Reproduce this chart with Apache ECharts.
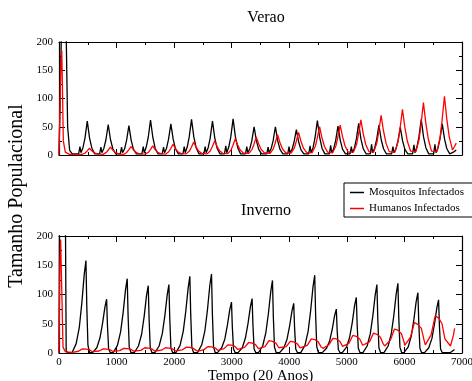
<!DOCTYPE html>
<html>
<head>
<meta charset="utf-8">
<script src="https://cdn.jsdelivr.net/npm/echarts@6/dist/echarts.min.js"></script>
<style>
  html, body { margin: 0; padding: 0; background: #fff; }
  #chart { width: 472px; height: 381px; }
</style>
</head>
<body>
<div id="chart"></div>
<script>
// Verao / Inverno - mosquitos e humanos infectados ao longo do tempo
var serifFont = '"Liberation Serif", "DejaVu Serif", serif';

var seriesNames = ['Mosquitos Infectados', 'Humanos Infectados'];
var panelTitles = ['Verao', 'Inverno'];
var xMax = 7000, xStep = 1000;
var yMax = 200, yStep = 50;

// [tempo, tamanho]
var veraoMosq = [
  [0,0],[50,260],[118,260],[150,50],[185,8],[230,2],
  [341,2],[364,15],[381,4],[416,13],[451,30],[491,60],[531,30],[571,12],[621,2],
  [705,2],[728,14],[745,4],[780,12],[815,27],[855,54],[895,27],[935,11],[985,2],
  [1064,2],[1087,14],[1104,4],[1139,11],[1174,26],[1214,52],[1254,26],[1294,10],[1344,2],
  [1440,2],[1463,15],[1480,4],[1515,14],[1550,31],[1590,62],[1630,31],[1670,12],[1720,2],
  [1793,2],[1816,14],[1833,4],[1868,12],[1903,28],[1943,55],[1983,28],[2023,11],[2073,2],
  [2152,2],[2175,15],[2192,4],[2227,14],[2262,32],[2302,63],[2342,32],[2382,13],[2432,2],
  [2516,2],[2539,15],[2556,4],[2591,13],[2626,30],[2666,60],[2706,30],[2746,12],[2796,2],
  [2874,2],[2897,16],[2914,4],[2949,14],[2984,32],[3024,64],[3064,32],[3104,13],[3154,2],
  [3239,2],[3262,15],[3279,4],[3314,11],[3349,25],[3389,50],[3429,25],[3469,10],[3519,2],
  [3609,2],[3632,14],[3649,4],[3684,11],[3719,25],[3759,50],[3799,25],[3839,10],[3889,2],
  [3973,2],[3996,15],[4013,4],[4048,10],[4083,23],[4123,45],[4163,23],[4203,9],[4253,2],
  [4338,2],[4361,16],[4378,4],[4413,13],[4448,31],[4488,61],[4528,31],[4568,12],[4618,2],
  [4696,2],[4719,17],[4736,4],[4771,11],[4806,26],[4846,51],[4886,26],[4926,10],[4976,2],
  [5055,2],[5078,15],[5095,4],[5130,12],[5165,28],[5205,56],[5245,28],[5285,11],[5335,2],
  [5407,2],[5430,19],[5447,4],[5482,12],[5517,27],[5557,53],[5597,27],[5637,11],[5687,2],
  [5778,2],[5801,15],[5818,4],[5853,11],[5888,25],[5928,49],[5968,25],[6008,10],[6058,2],
  [6142,2],[6165,18],[6182,4],[6217,14],[6252,32],[6292,63],[6332,32],[6372,13],[6422,2],
  [6507,2],[6530,19],[6547,4],[6582,12],[6617,28],[6657,55],[6697,28],[6737,11],[6787,2],
  [6850,5],[6900,9]
];

var veraoHum = [
  [0,0],[30,150],[48,185],[60,120],[75,25],[110,5],[180,1],
  [399,1],[454,3.6],[489,7.2],[529,12],[569,7.4],[614,3.6],[669,2],
  [763,1],[818,4.2],[853,8.4],[893,14],[933,8.7],[978,4.2],[1033,2],
  [1122,1],[1177,4.5],[1212,9],[1252,15],[1292,9.3],[1337,4.5],[1392,2],
  [1498,1.5],[1553,4.8],[1588,9.6],[1628,16],[1668,9.9],[1713,4.8],[1768,2.5],
  [1851,1.5],[1906,5.7],[1941,11.4],[1981,19],[2021,11.8],[2066,5.7],[2121,2.5],
  [2210,2],[2265,6.9],[2300,13.8],[2340,23],[2380,14.3],[2425,6.9],[2480,3],
  [2574,2],[2629,7.5],[2664,15],[2704,25],[2744,15.5],[2789,7.5],[2844,3],
  [2932,2.5],[2987,8.7],[3022,17.4],[3062,29],[3102,18],[3147,8.7],[3202,3.5],
  [3297,3],[3352,9.6],[3387,19.2],[3427,32],[3467,19.8],[3512,9.6],[3567,4],
  [3667,3],[3722,10.8],[3757,21.6],[3797,36],[3837,22.3],[3882,10.8],[3937,4],
  [4031,3.5],[4086,12],[4121,24],[4161,40],[4201,24.8],[4246,12],[4301,4.5],
  [4396,4],[4451,15],[4486,30],[4526,50],[4566,31],[4611,15],[4666,5],
  [4754,4],[4809,15.9],[4844,31.8],[4884,53],[4924,32.9],[4969,15.9],[5024,5],
  [5113,5],[5168,18.6],[5203,37.2],[5243,62],[5283,38.4],[5328,18.6],[5383,6],
  [5465,5],[5520,21],[5555,42],[5595,70],[5635,43.4],[5680,21],[5735,6],
  [5836,5],[5891,24.3],[5926,48.6],[5966,81],[6006,50.2],[6051,24.3],[6106,7],
  [6200,6],[6255,27.9],[6290,55.8],[6330,93],[6370,57.7],[6415,27.9],[6470,7],
  [6565,6],[6620,31.2],[6655,62.4],[6695,104],[6735,64.5],[6780,31.2],[6835,9],
  [6870,15],[6900,21]
];

var invernoMosq = [
  [0,0],[10,260],[110,260],[125,3],[160,0.5],
  [228,1],[298,16],[353,44],[398,87],[438,134],[468,158],[483,79],[503,13],[533,0.5],
  [587,1],[657,9],[712,26],[757,51],[797,78],[827,92],[842,46],[862,7],[892,0.5],
  [945,1],[1015,13],[1070,36],[1115,70],[1155,108],[1185,127],[1200,64],[1220,10],[1250,0.5],
  [1310,1],[1380,12],[1435,32],[1480,63],[1520,98],[1550,115],[1565,58],[1585,9],[1615,0.5],
  [1669,1],[1739,12],[1794,33],[1839,64],[1879,99],[1909,117],[1924,59],[1944,9],[1974,0.5],
  [2033,1],[2103,13],[2158,37],[2203,72],[2243,111],[2273,131],[2288,66],[2308,10],[2338,0.5],
  [2409,1],[2479,14],[2534,38],[2579,74],[2619,115],[2649,135],[2664,68],[2684,11],[2714,0.5],
  [2756,1],[2826,9],[2881,24],[2926,48],[2966,74],[2996,87],[3011,44],[3031,7],[3061,0.5],
  [3114,1],[3184,9],[3239,26],[3284,51],[3324,79],[3354,93],[3369,47],[3389,7],[3419,0.5],
  [3468,1],[3538,12],[3593,35],[3638,68],[3678,105],[3708,124],[3723,62],[3743,10],[3773,0.5],
  [3837,1],[3907,9],[3962,24],[4007,47],[4047,72],[4077,85],[4092,43],[4112,7],[4142,0.5],
  [4202,1],[4272,13],[4327,37],[4372,73],[4412,113],[4442,133],[4457,67],[4477,11],[4507,0.5],
  [4577,1],[4647,8],[4702,21],[4747,41],[4787,64],[4817,75],[4832,38],[4852,6],[4882,0.5],
  [4924,1],[4994,10],[5049,27],[5094,52],[5134,81],[5164,95],[5179,48],[5199,8],[5229,0.5],
  [5282,1],[5352,12],[5407,33],[5452,64],[5492,99],[5522,117],[5537,59],[5557,9],[5587,0.5],
  [5647,1],[5717,12],[5772,33],[5817,65],[5857,101],[5887,119],[5902,60],[5922,10],[5952,0.5],
  [5994,1],[6064,10],[6119,29],[6164,57],[6204,88],[6234,103],[6249,52],[6269,8],[6299,0.5],
  [6353,1],[6423,9],[6478,25],[6523,50],[6563,77],[6593,91],[6608,46],[6628,7],[6658,0.5],
  [6800,1],[6870,6]
];

var invernoHum = [
  [0,0],[15,150],[28,194],[45,120],[70,10],[110,2],
  [238,1],[338,3],[408,7],[468,6.6],[528,5.6],[578,2.2],
  [597,1.5],[697,3.4],[767,7],[827,6.6],[887,5.6],[937,2.6],
  [955,2],[1055,4.1],[1125,8],[1185,7.6],[1245,6.4],[1295,3.2],
  [1320,2],[1420,4.5],[1490,9],[1550,8.5],[1610,7.2],[1660,3.4],
  [1679,2.5],[1779,4.8],[1849,9],[1909,8.5],[1969,7.2],[2019,3.8],
  [2043,3],[2143,5.5],[2213,10],[2273,9.5],[2333,8],[2383,4.4],
  [2419,3],[2519,5.8],[2589,11],[2649,10.5],[2709,8.8],[2759,4.6],
  [2766,4],[2866,7.5],[2936,14],[2996,13.3],[3056,11.2],[3106,6],
  [3124,5],[3224,9.5],[3294,18],[3354,17],[3414,14.4],[3464,7.6],
  [3478,6],[3578,11],[3648,21],[3708,20],[3768,17],[3818,9],
  [3847,6],[3947,11],[4017,20],[4077,19],[4137,16],[4187,8.8],
  [4212,7],[4312,13],[4382,24],[4442,23],[4502,19],[4552,10.4],
  [4587,8],[4687,14],[4757,25],[4817,24],[4877,20],[4927,11.4],
  [4934,9],[5034,16.4],[5104,30],[5164,28.5],[5224,24],[5274,13.2],
  [5292,11],[5392,19],[5462,34],[5522,32],[5582,27],[5632,15.6],
  [5657,12],[5757,22],[5827,41],[5887,39],[5947,33],[5997,17.8],
  [6004,13],[6104,26.7],[6174,52],[6234,49],[6294,42],[6344,20.8],
  [6363,14],[6463,31],[6533,63],[6593,60],[6653,50],[6703,24],
  [6800,12],[6850,30],[6872,42]
];

var chart = echarts.init(document.getElementById('chart'), null, { renderer: 'canvas' });

var gridTops = [42, 236];
var gridHeights = [113, 117];

function tickStyle() {
  return {
    axisLine: { show: true, onZero: false, lineStyle: { color: '#000', width: 1.2 } },
    axisTick: { show: true, inside: true, length: 6, lineStyle: { color: '#000', width: 1 } },
    minorTick: { show: true, splitNumber: 2, length: 3, lineStyle: { color: '#000', width: 1 } },
    splitLine: { show: false }
  };
}

var grids = [], xAxes = [], yAxes = [], series = [];
[0, 1].forEach(function (g) {
  grids.push({
    left: 59, right: 10, top: gridTops[g], height: gridHeights[g],
    containLabel: false, outerBoundsMode: 'none'
  });

  // eixo x de baixo
  var xb = Object.assign({
    type: 'value', gridIndex: g, min: 0, max: xMax, interval: xStep, position: 'bottom',
    axisLabel: {
      show: g === 1, margin: 4, color: '#000', fontSize: 11, fontFamily: serifFont,
      formatter: function (v) { return String(v); }
    }
  }, tickStyle());
  if (g === 1) {
    xb.name = 'Tempo (20 Anos)';
    xb.nameLocation = 'middle';
    xb.nameGap = 13;
    xb.nameTextStyle = { color: '#000', fontSize: 15, fontFamily: serifFont };
  }
  xAxes.push(xb);
  // eixo x de cima (so ticks)
  xAxes.push(Object.assign({
    type: 'value', gridIndex: g, min: 0, max: xMax, interval: xStep, position: 'top',
    axisLabel: { show: false }
  }, tickStyle()));

  yAxes.push(Object.assign({
    type: 'value', gridIndex: g, min: 0, max: yMax, interval: yStep, position: 'left',
    axisLabel: { margin: 6, color: '#000', fontSize: 11, fontFamily: serifFont }
  }, tickStyle()));
  yAxes.push(Object.assign({
    type: 'value', gridIndex: g, min: 0, max: yMax, interval: yStep, position: 'right',
    axisLabel: { show: false }
  }, tickStyle()));
});

var panelData = [[veraoMosq, veraoHum], [invernoMosq, invernoHum]];
var colors = ['#000000', '#ff0000'];
[0, 1].forEach(function (g) {
  [0, 1].forEach(function (s) {
    series.push({
      name: seriesNames[s],
      type: 'line',
      xAxisIndex: g * 2,
      yAxisIndex: g * 2,
      data: panelData[g][s],
      showSymbol: false,
      symbol: 'none',
      clip: true,
      lineStyle: { color: colors[s], width: 1.3 },
      itemStyle: { color: colors[s] },
      z: s === 0 ? 2 : 3
    });
  });
});

var option = {
  backgroundColor: '#fff',
  animation: false,
  title: [
    { text: panelTitles[0], left: 261, top: 5, textAlign: 'center',
      textStyle: { color: '#000', fontSize: 16, fontWeight: 'normal', fontFamily: serifFont } },
    { text: panelTitles[1], left: 261, top: 198, textAlign: 'center',
      textStyle: { color: '#000', fontSize: 16, fontWeight: 'normal', fontFamily: serifFont } }
  ],
  legend: {
    data: seriesNames,
    orient: 'vertical',
    left: 344,
    top: 183,
    itemGap: 5,
    padding: [4, 14, 3, 6],
    borderColor: '#000',
    borderWidth: 1,
    itemWidth: 14,
    itemHeight: 1.5,
    icon: 'rect',
    selectedMode: false,
    textStyle: { color: '#000', fontSize: 11, fontFamily: serifFont }
  },
  graphic: [
    {
      type: 'text',
      x: 17, y: 196,
      rotation: Math.PI / 2,
      style: {
        text: 'Tamanho Populacional',
        fill: '#000',
        font: '20px "Liberation Serif", "DejaVu Serif", serif',
        textAlign: 'center', textVerticalAlign: 'middle',
        align: 'center', verticalAlign: 'middle'
      }
    }
  ],
  grid: grids,
  xAxis: xAxes,
  yAxis: yAxes,
  series: series
};

chart.setOption(option);
</script>
</body>
</html>
